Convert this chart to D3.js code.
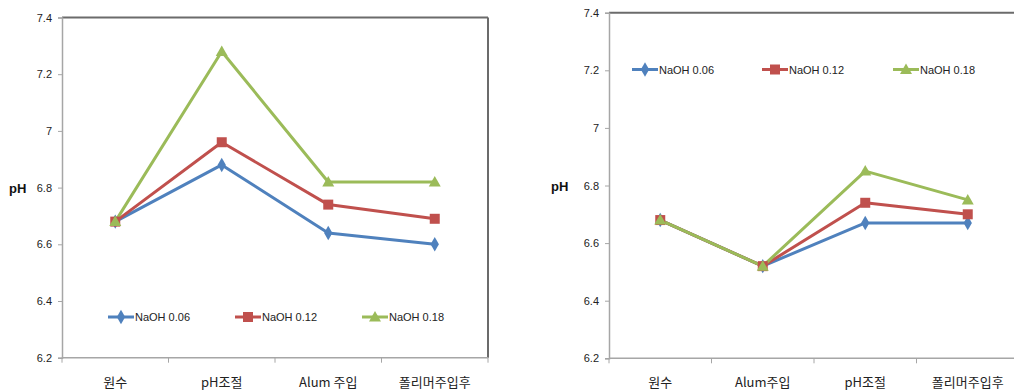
<!DOCTYPE html>
<html>
<head>
<meta charset="utf-8">
<script src="https://cdn.jsdelivr.net/npm/d3@7"></script>
<style>
  html, body { margin: 0; padding: 0; background: #fff; }
  svg { display: block; font-family: "Noto Sans CJK KR", "Liberation Sans", sans-serif; }
</style>
</head>
<body>
<svg id="chart" width="1014" height="392"></svg>
<script>
// Treatment stages for each panel
const stagesA = ["원수", "pH조절", "Alum 주입", "폴리머주입후"];
const stagesB = ["원수", "Alum주입", "pH조절", "폴리머주입후"];

// Series names
const seriesNames = ["NaOH 0.06", "NaOH 0.12", "NaOH 0.18"];

// pH values, panel A (pH adjusted before alum)
const phA_006 = [6.68, 6.88, 6.64, 6.60];
const phA_012 = [6.68, 6.96, 6.74, 6.69];
const phA_018 = [6.68, 7.28, 6.82, 6.82];

// pH values, panel B (alum before pH adjustment)
const phB_006 = [6.68, 6.52, 6.67, 6.67];
const phB_012 = [6.68, 6.52, 6.74, 6.70];
const phB_018 = [6.68, 6.52, 6.85, 6.75];

// Y axis ticks
const yTicks = [6.2, 6.4, 6.6, 6.8, 7.0, 7.2, 7.4];

const colors = ["#4F81BD", "#C0504D", "#9BBB59"];
const markers = ["diamond", "square", "triangle"];

const svg = d3.select("#chart");

function markerPath(type) {
  if (type === "diamond") return d3.symbol().type(d3.symbolDiamond).size(60)();
  if (type === "square") return "M-5,-5H5V5H-5Z";
  return "M0,-6L6,4.5H-6Z";
}

function drawPanel(opts) {
  const { left, right, top, bottom, stages, data, legendY, legendX, pHX, clipRight } = opts;
  const g = svg.append("g");

  const x = d3.scaleBand().domain(stages).range([left, right]);
  const y = d3.scaleLinear().domain([6.2, 7.4]).range([bottom, top]);

  // Frame: top and right edge in darker grey
  g.append("line").attr("x1", left).attr("x2", Math.min(right, clipRight))
    .attr("y1", top).attr("y2", top)
    .attr("stroke", "#6b6b6b").attr("stroke-width", 2);
  if (right <= clipRight) {
    g.append("line").attr("x1", right).attr("x2", right)
      .attr("y1", top).attr("y2", bottom)
      .attr("stroke", "#6b6b6b").attr("stroke-width", 2);
  }

  // Y axis
  const yAxis = d3.axisLeft(y).tickValues(yTicks).tickSize(4).tickPadding(6)
    .tickFormat(d => d === 7 ? "7" : d3.format(".1f")(d));
  const ya = g.append("g").attr("transform", `translate(${left},0)`).call(yAxis);
  ya.select(".domain").attr("stroke", "#a6a6a6").attr("stroke-width", 1.5);
  ya.selectAll(".tick line").attr("stroke", "#a6a6a6");
  ya.selectAll(".tick text").attr("fill", "#222").style("font-size", "11px")
    .style("font-family", "Liberation Sans, sans-serif");

  // X axis with boundary ticks between categories
  g.append("line").attr("x1", left).attr("x2", Math.min(right, clipRight))
    .attr("y1", bottom).attr("y2", bottom)
    .attr("stroke", "#a6a6a6").attr("stroke-width", 1.5);
  const bounds = stages.map(s => x(s)).concat([x.range()[1]]);
  g.selectAll(".xtick").data(bounds).enter().append("line")
    .attr("x1", d => d).attr("x2", d => d)
    .attr("y1", bottom).attr("y2", bottom + 5)
    .attr("stroke", "#a6a6a6").attr("stroke-width", 1);
  g.selectAll(".xlab").data(stages).enter().append("text")
    .attr("x", d => x(d) + x.bandwidth() / 2)
    .attr("y", bottom + 29)
    .attr("text-anchor", "middle")
    .attr("fill", "#222")
    .style("font-size", "13px")
    .text(d => d);

  // Y title
  g.append("text").attr("x", pHX).attr("y", y(6.8) + 5)
    .attr("fill", "#111").style("font-size", "13px").style("font-weight", "bold")
    .style("font-family", "Liberation Sans, sans-serif")
    .text("pH");

  const line = d3.line()
    .x((d, i) => x(stages[i]) + x.bandwidth() / 2)
    .y(d => y(d));

  data.forEach((vals, si) => {
    g.append("path").datum(vals)
      .attr("d", line).attr("fill", "none")
      .attr("stroke", colors[si]).attr("stroke-width", 3)
      .attr("stroke-linejoin", "round");
  });
  data.forEach((vals, si) => {
    g.selectAll(null).data(vals).enter().append("path")
      .attr("d", markerPath(markers[si]))
      .attr("transform", (d, i) => `translate(${x(stages[i]) + x.bandwidth() / 2},${y(d)})`)
      .attr("fill", colors[si]);
  });

  // Legend
  seriesNames.forEach((name, si) => {
    const lx = legendX[si];
    g.append("line").attr("x1", lx).attr("x2", lx + 26)
      .attr("y1", legendY).attr("y2", legendY)
      .attr("stroke", colors[si]).attr("stroke-width", 3);
    g.append("path").attr("d", markerPath(markers[si]))
      .attr("transform", `translate(${lx + 13},${legendY})`)
      .attr("fill", colors[si]);
    g.append("text").attr("x", lx + 27).attr("y", legendY + 4)
      .attr("fill", "#222").style("font-size", "11px")
      .style("font-family", "Liberation Sans, sans-serif")
      .text(name);
  });
}

drawPanel({
  left: 62, right: 488, top: 17.5, bottom: 357.7,
  stages: stagesA, data: [phA_006, phA_012, phA_018],
  legendY: 317, legendX: [108, 235, 362], pHX: 9, clipRight: 1014
});

drawPanel({
  left: 609, right: 1019, top: 12.7, bottom: 358.3,
  stages: stagesB, data: [phB_006, phB_012, phB_018],
  legendY: 69.5, legendX: [632, 762, 893], pHX: 551, clipRight: 1014
});
</script>
</body>
</html>
